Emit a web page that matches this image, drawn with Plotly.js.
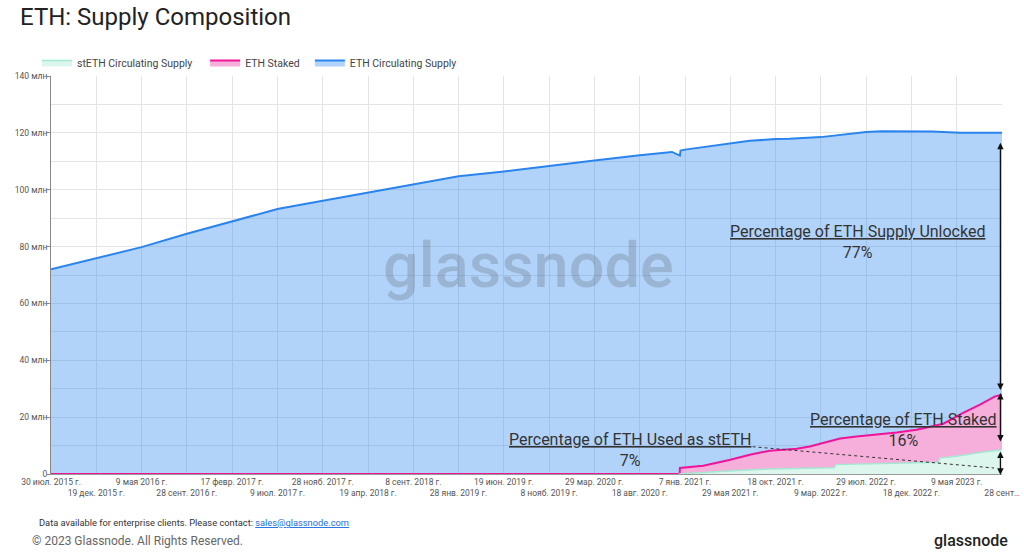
<!DOCTYPE html>
<html>
<head>
<meta charset="utf-8">
<script src="https://cdn.plot.ly/plotly-3.0.1.min.js"></script>
<style>
html,body{margin:0;padding:0;background:#fff;}
#chart{width:1024px;height:552px;}
</style>
</head>
<body>
<div id="chart"></div>
<script>
// ---- Data (values in millions of ETH) ----
const supplyDates = ['2015-07-30','2015-12-19','2016-05-09','2016-09-28','2017-02-17','2017-07-09','2017-09-20','2017-11-28','2018-04-19','2018-09-08','2019-01-28','2019-06-19','2019-11-08','2020-03-29','2020-08-18','2020-11-27','2020-12-22','2020-12-24','2021-01-07','2021-05-29','2021-07-29','2021-10-18','2021-12-01','2022-03-09','2022-05-29','2022-07-29','2022-09-15','2022-12-18','2023-02-20','2023-05-20','2023-09-28'];
const supplyValues = [72.0,76.0,79.8,84.5,88.8,93.2,94.7,96.1,99.1,102.0,104.7,106.4,108.4,110.3,112.1,113.3,112.0,113.8,114.1,116.2,117.2,117.8,117.9,118.5,119.5,120.3,120.6,120.6,120.5,120.0,120.0];

const stakedDates = ['2015-07-30','2020-12-21','2020-12-22','2021-03-05','2021-05-29','2021-07-29','2021-09-30','2021-12-23','2022-02-02','2022-03-16','2022-05-08','2022-06-29','2022-08-31','2022-11-02','2023-01-03','2023-03-28','2023-05-29','2023-07-21','2023-09-06','2023-09-28'];
const stakedValues = [0,0,2.1,2.9,5.0,6.8,8.2,8.9,9.7,10.9,12.5,13.2,13.8,14.6,15.6,17.7,21.5,24.4,27.3,27.9];

const stethDates = ['2020-12-18','2021-03-05','2021-06-18','2021-09-30','2022-01-12','2022-04-20','2022-04-25','2022-08-10','2022-11-21','2023-03-12','2023-03-17','2023-05-19','2023-07-21','2023-09-28'];
const stethValues = [0,0.6,1.2,1.8,2.1,2.2,3.3,3.5,3.9,4.1,5.6,6.4,7.6,8.5];

const xTickDates = ['2015-07-30','2015-12-19','2016-05-09','2016-09-28','2017-02-17','2017-07-09','2017-11-28','2018-04-19','2018-09-08','2019-01-28','2019-06-19','2019-11-08','2020-03-29','2020-08-18','2021-01-07','2021-05-29','2021-10-18','2022-03-09','2022-07-29','2022-12-18','2023-05-09','2023-09-28'];
const xTickLabels = ['30 июл. 2015 г.','19 дек. 2015 г.','9 мая 2016 г.','28 сент. 2016 г.','17 февр. 2017 г.','9 июл. 2017 г.','28 нояб. 2017 г.','19 апр. 2018 г.','8 сент. 2018 г.','28 янв. 2019 г.','19 июн. 2019 г.','8 нояб. 2019 г.','29 мар. 2020 г.','18 авг. 2020 г.','7 янв. 2021 г.','29 мая 2021 г.','18 окт. 2021 г.','9 мар. 2022 г.','29 июл. 2022 г.','18 дек. 2022 г.','9 мая 2023 г.','28 сент…'];

const yTickValues = [0,20,40,60,80,100,120,140];
const yTickLabels = ['0','20 млн','40 млн','60 млн','80 млн','100 млн','120 млн','140 млн'];

const seriesNames = ['ETH Circulating Supply','ETH Staked','stETH Circulating Supply'];

// alternate tick labels on two rows
const xTickText = xTickLabels.map((t,i)=> i%2===0 ? t : '\u00a0<br>'+t);

const font = 'Roboto, "Noto Sans", sans-serif';

const traces = [
  {x: supplyDates, y: supplyValues, name: seriesNames[0], type:'scatter', mode:'lines',
   line:{color:'#2a84ee', width:2}, fill:'tozeroy', fillcolor:'rgba(42,132,238,0.36)'},
  {x: stakedDates, y: stakedValues, name: seriesNames[1] + '\u00a0\u00a0', type:'scatter', mode:'lines',
   line:{color:'#f0149b', width:2}, fill:'tozeroy', fillcolor:'#f6afdb'},
  {x: stethDates, y: stethValues, name: seriesNames[2] + '\u00a0\u00a0\u00a0', type:'scatter', mode:'lines',
   line:{color:'#a3e8d1', width:1.5}, fill:'tozeroy', fillcolor:'#dcf6ee'}
];

const arrowX = '2023-09-23';
const annText = {family: font, size: 16, color:'#333'};
// pixel helpers for paper coordinates (plot area: x 51..1002, y 76..474)
const px = v => (v - 51) / 951;
const py = v => (474 - v) / 398;

const layout = {
  width:1024, height:552,
  margin:{l:51, r:22, t:76, b:78, autoexpand:false},
  paper_bgcolor:'#fff', plot_bgcolor:'#fff',
  showlegend:true,
  title:{text:'ETH: Supply Composition', x:20/1024, xref:'container', xanchor:'left',
         y:1-17/552, yref:'container', yanchor:'middle',
         font:{family:font, size:24, color:'#222'}},
  legend:{orientation:'h', x:37/1024, xref:'container', xanchor:'left',
          y:1-48/552, yref:'container', yanchor:'top', traceorder:'reversed',
          font:{family:font, size:10.5, color:'#444'}, itemwidth:30, bgcolor:'rgba(0,0,0,0)'},
  xaxis:{type:'date', range:['2015-07-30','2023-09-28'], tickmode:'array',
         tickvals:xTickDates, ticktext:xTickText, tickangle:0,
         tickfont:{family:font, size:8.5, color:'#555'},
         showgrid:true, gridcolor:'#e4e4e4', gridwidth:1,
         showline:true, linecolor:'#999', linewidth:1, ticks:'', zeroline:false},
  yaxis:{range:[0,140], tickmode:'array', tickvals:yTickValues, ticktext:yTickLabels,
         tickfont:{family:font, size:8.5, color:'#555'},
         showgrid:true, gridcolor:'#e4e4e4', gridwidth:1,
         minor:{dtick:10, showgrid:true, gridcolor:'#e4e4e4', ticks:''},
         showline:true, linecolor:'#888', linewidth:1, ticks:'outside', ticklen:3, tickcolor:'#888',
         ticklabelstandoff:-2, zeroline:false, fixedrange:true},
  shapes:[
    {type:'line', xref:'x', yref:'y', x0:'2021-08-07', y0:9.6, x1:'2023-09-03', y1:2.1,
     line:{color:'#333', width:1, dash:'dot'}, layer:'above'}
  ],
  annotations:[
    {xref:'paper', yref:'paper', x:px(528), y:py(265), xanchor:'center', yanchor:'middle',
     text:'glassnode', showarrow:false,
     font:{family:font, size:63, color:'rgba(60,60,60,0.2)', weight:500}},
    {xref:'paper', yref:'paper', x:px(857), y:py(242), xanchor:'center', yanchor:'middle',
     text:'<u>Percentage of ETH Supply Unlocked</u><br>77%',
     showarrow:false, font:annText, align:'center'},
    {xref:'paper', yref:'paper', x:px(903), y:py(429.5), xanchor:'center', yanchor:'middle',
     text:'<u>Percentage of ETH Staked</u><br>16%',
     showarrow:false, font:annText, align:'center'},
    {xref:'paper', yref:'paper', x:px(630), y:py(449.5), xanchor:'center', yanchor:'middle',
     text:'<u>Percentage of ETH Used as stETH</u><br>7%',
     showarrow:false, font:annText, align:'center'},
    {xref:'x', yref:'y', axref:'x', ayref:'y', x:arrowX, y:116.5, ax:arrowX, ay:29.0, text:'',
     showarrow:true, arrowhead:2, startarrowhead:2, arrowside:'end+start', arrowsize:1, arrowwidth:1.3,
     arrowcolor:'#111', standoff:0, startstandoff:0},
    {xref:'x', yref:'y', axref:'x', ayref:'y', x:arrowX, y:28.5, ax:arrowX, ay:10.9, text:'',
     showarrow:true, arrowhead:2, startarrowhead:2, arrowside:'end+start', arrowsize:1, arrowwidth:1.3,
     arrowcolor:'#111', standoff:0, startstandoff:0},
    {xref:'x', yref:'y', axref:'x', ayref:'y', x:arrowX, y:7.9, ax:arrowX, ay:-0.8, text:'',
     showarrow:true, arrowhead:2, startarrowhead:2, arrowside:'end+start', arrowsize:1, arrowwidth:1.3,
     arrowcolor:'#111', standoff:0, startstandoff:0},
    {xref:'paper', yref:'paper', x:px(37), y:py(522), xanchor:'left', yanchor:'middle',
     text:'Data available for enterprise clients. Please contact: <span style="color:#1a6fe0"><u>sales@glassnode.com</u></span>',
     showarrow:false, font:{family:font, size:9.3, color:'#333'}},
    {xref:'paper', yref:'paper', x:px(30), y:py(541), xanchor:'left', yanchor:'middle',
     text:'© 2023 Glassnode. All Rights Reserved.', showarrow:false,
     font:{family:font, size:12, color:'#666'}},
    {xref:'paper', yref:'paper', x:px(1010), y:py(540), xanchor:'right', yanchor:'middle',
     text:'glassnode', showarrow:false, font:{family:font, size:16, color:'#222', weight:500}}
  ]
};

Plotly.newPlot('chart', traces, layout, {staticPlot:true, displayModeBar:false});
</script>
</body>
</html>
